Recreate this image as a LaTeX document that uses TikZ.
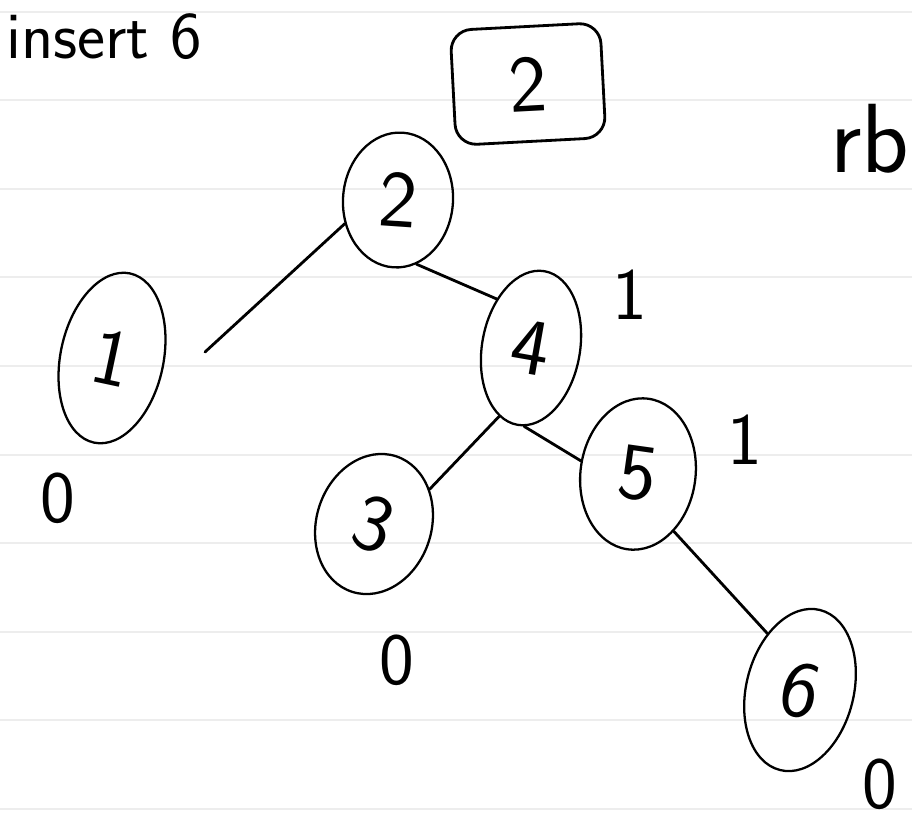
\documentclass[tikz,border=0pt]{standalone}
\usetikzlibrary{shapes.geometric}
\begin{document}
\begin{tikzpicture}[x=0.02cm, y=-0.02cm,
    ink/.style={draw, line width=1.6pt, line cap=round},
    knot/.style={ellipse, draw, line width=1.3pt, inner sep=0pt, font=\fontsize{46}{50}\selectfont\sffamily},
    tag/.style={inner sep=0pt, font=\fontsize{42}{46}\selectfont\sffamily},
    rule/.style={draw=black!7, line width=1pt}
]
    \useasboundingbox (0,0) rectangle (912,826);
    \fill[white] (0,0) rectangle (912,826);
    \foreach \y in {12,100,189,277,366,455,543,632,720,809}
        \path[rule] (0,\y) -- (912,\y);

    \node [tag, anchor=base west, font=\fontsize{38}{42}\selectfont\sffamily] (ins) at (6,58) {insert 6};
    \node [tag, anchor=base west, font=\fontsize{56}{60}\selectfont\sffamily] (rb) at (830,172) {rb};

    \node [rectangle, rounded corners=12pt, draw, line width=1.6pt, rotate=3, minimum width=3cm, minimum height=2.3cm, font=\fontsize{46}{50}\selectfont\sffamily] (root) at (528,84) {2};

    \node [knot, minimum width=2.2cm, minimum height=2.7cm, rotate=-4] (n2) at (398,200) {2};
    \node [knot, minimum width=2.06cm, minimum height=3.46cm, rotate=-12] (n1) at (112,358) {1};
    \node [knot, minimum width=1.96cm, minimum height=3.12cm, rotate=-10] (n4) at (531,348) {4};
    \node [knot, minimum width=2.3cm, minimum height=2.85cm, rotate=-18] (n3) at (374,524) {3};
    \node [knot, minimum width=2.3cm, minimum height=3.04cm, rotate=-8] (n5) at (638,474) {5};
    \node [knot, minimum width=2.15cm, minimum height=3.3cm, rotate=-14] (n6) at (800,690) {6};

    \coordinate (e1) at (205,352);
    \path [ink] (n2.208) -- (e1);
    \path [ink] (n2.-70) -- (n4.135);
    \path [ink] (n4.-105) -- (n3.50);
    \path [ink] (n4.-85) -- (n5.175);
    \path [ink] (n5.-50) -- (n6.134);

    \node [tag] (h1) at (58,498) {0};
    \node [tag] (h4) at (630,295) {1};
    \node [tag] (h5) at (745,440) {1};
    \node [tag] (h3) at (397,660) {0};
    \node [tag] (h6) at (880,784) {0};
\end{tikzpicture}
\end{document}
